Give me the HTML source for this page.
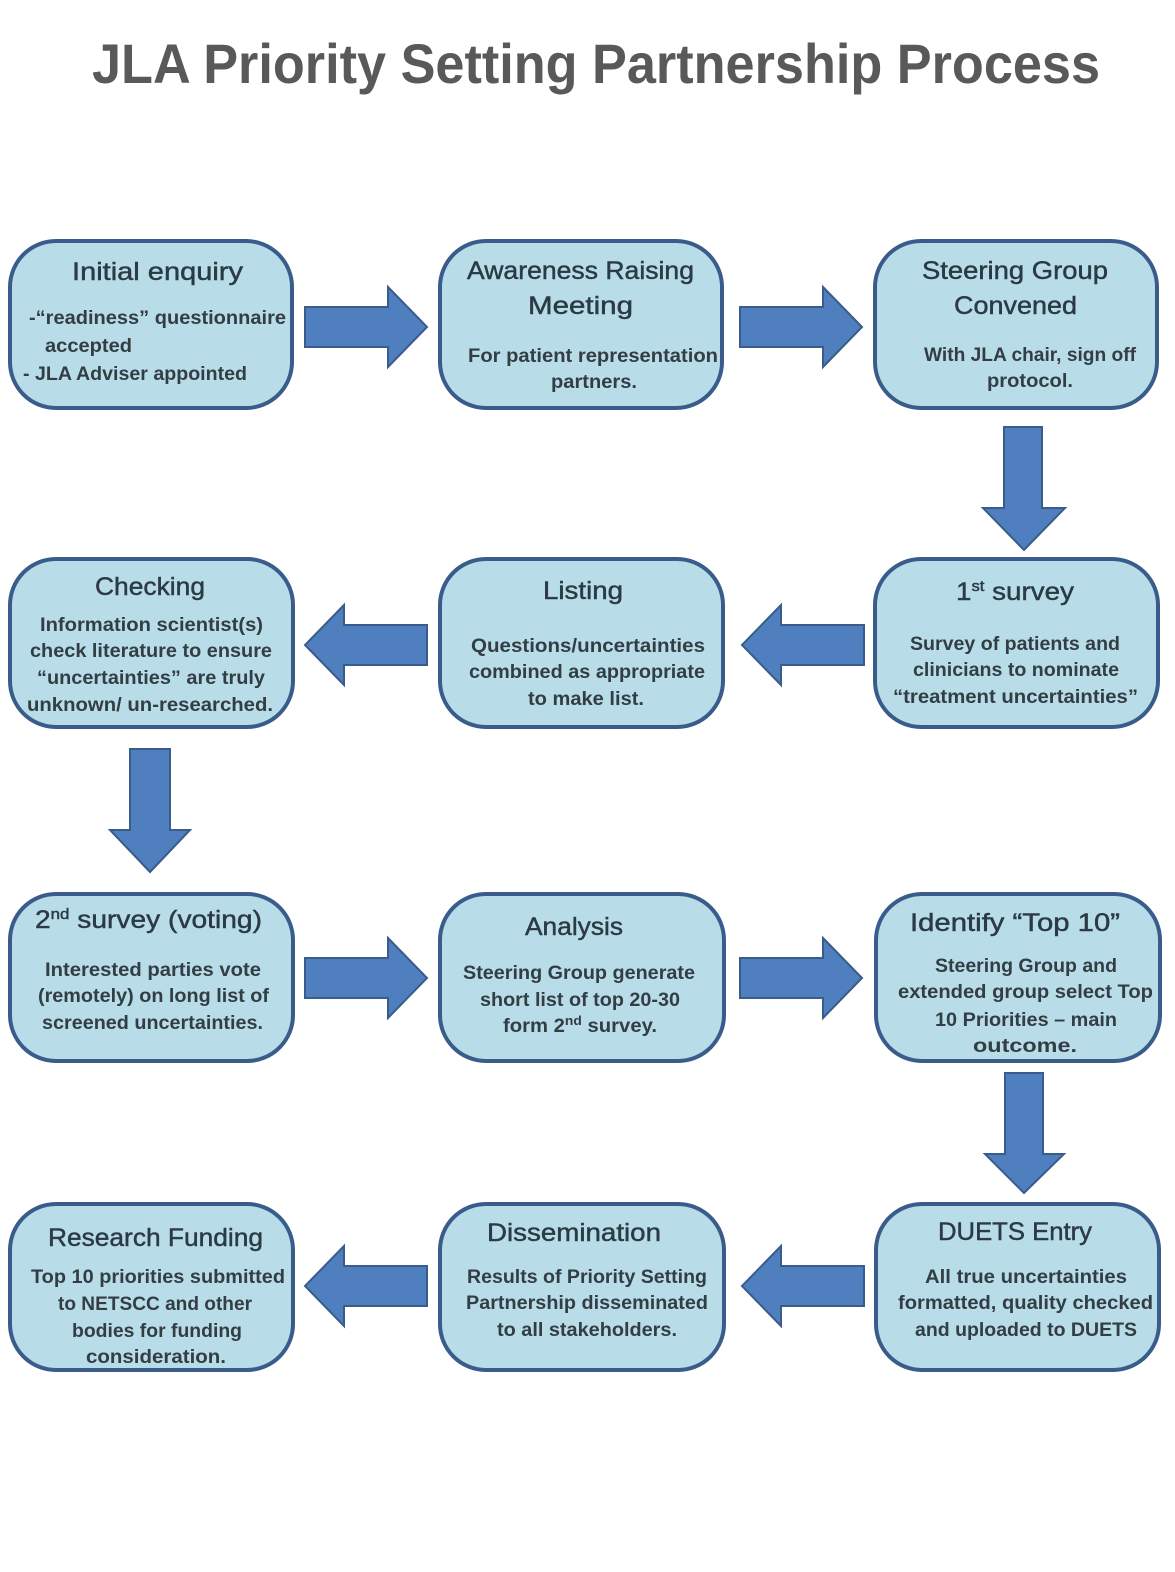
<!DOCTYPE html>
<html>
<head>
<meta charset="utf-8">
<style>
html,body{margin:0;padding:0;background:#fff;}
svg{display:block;}
.t{font-family:"Liberation Sans",Arial,sans-serif;font-weight:bold;fill:#595959;}
.h{font-family:"Liberation Sans",Arial,sans-serif;font-weight:normal;fill:#2b3a44;stroke:#2b3a44;stroke-width:0.45;font-size:25px;}
.b{font-family:"Liberation Sans",Arial,sans-serif;font-weight:bold;fill:#333d44;font-size:19px;}
.box{fill:#b8dde9;stroke:#395c8b;stroke-width:4;}
.ar{fill:#4f7fbf;stroke:#3a5c8a;stroke-width:2;stroke-linejoin:miter;}
</style>
</head>
<body>
<svg width="1175" height="1572" viewBox="0 0 1175 1572" xmlns="http://www.w3.org/2000/svg">
<rect width="1175" height="1572" fill="#fff"/>
<text class="t" x="596" y="83" font-size="56" text-anchor="middle" textLength="1008" lengthAdjust="spacingAndGlyphs">JLA Priority Setting Partnership Process</text>

<!-- Boxes -->
<rect class="box" x="10" y="241" width="282" height="167" rx="46" ry="46"/>
<rect class="box" x="440" y="241" width="282" height="167" rx="46" ry="46"/>
<rect class="box" x="875" y="241" width="282" height="167" rx="46" ry="46"/>

<rect class="box" x="10" y="559" width="283" height="168" rx="46" ry="46"/>
<rect class="box" x="440" y="559" width="283" height="168" rx="46" ry="46"/>
<rect class="box" x="875" y="559" width="283" height="168" rx="46" ry="46"/>

<rect class="box" x="10" y="894" width="283" height="167" rx="46" ry="46"/>
<rect class="box" x="440" y="894" width="284" height="167" rx="46" ry="46"/>
<rect class="box" x="876" y="894" width="284" height="167" rx="46" ry="46"/>

<rect class="box" x="10" y="1204" width="283" height="166" rx="46" ry="46"/>
<rect class="box" x="440" y="1204" width="284" height="166" rx="46" ry="46"/>
<rect class="box" x="876" y="1204" width="283" height="166" rx="46" ry="46"/>

<!-- Arrows row 1 (right) -->
<polygon class="ar" points="305,307 388,307 388,287 427,327 388,367 388,347 305,347"/>
<polygon class="ar" points="740,307 823,307 823,287 862,327 823,367 823,347 740,347"/>
<!-- Down arrow 1 -->
<polygon class="ar" points="1004,427 1042,427 1042,508 1065,508 1024,550 983,508 1004,508"/>
<!-- Row 2 (left) -->
<polygon class="ar" points="864,625 781,625 781,605 742,645 781,685 781,665 864,665"/>
<polygon class="ar" points="427,625 344,625 344,605 305,645 344,685 344,665 427,665"/>
<!-- Down arrow 2 -->
<polygon class="ar" points="130,749 170,749 170,830 190,830 150,872 110,830 130,830"/>
<!-- Row 3 (right) -->
<polygon class="ar" points="305,958 388,958 388,938 427,978 388,1018 388,998 305,998"/>
<polygon class="ar" points="740,958 823,958 823,938 862,978 823,1018 823,998 740,998"/>
<!-- Down arrow 3 -->
<polygon class="ar" points="1005,1073 1043,1073 1043,1154 1064,1154 1024,1193 985,1154 1005,1154"/>
<!-- Row 4 (left) -->
<polygon class="ar" points="864,1266 781,1266 781,1246 742,1286 781,1326 781,1306 864,1306"/>
<polygon class="ar" points="427,1266 344,1266 344,1246 305,1286 344,1326 344,1306 427,1306"/>

<!-- Box 1: Initial enquiry -->
<text class="h" x="157.5" y="280" text-anchor="middle" textLength="171" lengthAdjust="spacingAndGlyphs">Initial enquiry</text>
<text class="b" x="157.5" y="324" text-anchor="middle" textLength="257" lengthAdjust="spacingAndGlyphs">-“readiness” questionnaire</text>
<text class="b" x="88.5" y="352" text-anchor="middle" textLength="87" lengthAdjust="spacingAndGlyphs">accepted</text>
<text class="b" x="135" y="380" text-anchor="middle" textLength="224" lengthAdjust="spacingAndGlyphs">- JLA Adviser appointed</text>

<!-- Box 2: Awareness -->
<text class="h" x="580.5" y="279" text-anchor="middle" textLength="227" lengthAdjust="spacingAndGlyphs">Awareness Raising</text>
<text class="h" x="580.5" y="314" text-anchor="middle" textLength="105" lengthAdjust="spacingAndGlyphs">Meeting</text>
<text class="b" x="593" y="362" text-anchor="middle" textLength="250" lengthAdjust="spacingAndGlyphs">For patient representation</text>
<text class="b" x="594" y="388" text-anchor="middle" textLength="86" lengthAdjust="spacingAndGlyphs">partners.</text>

<!-- Box 3: Steering Group -->
<text class="h" x="1015" y="279" text-anchor="middle" textLength="186" lengthAdjust="spacingAndGlyphs">Steering Group</text>
<text class="h" x="1015.5" y="314" text-anchor="middle" textLength="123" lengthAdjust="spacingAndGlyphs">Convened</text>
<text class="b" x="1030" y="361" text-anchor="middle" textLength="212" lengthAdjust="spacingAndGlyphs">With JLA chair, sign off</text>
<text class="b" x="1030" y="387" text-anchor="middle" textLength="86" lengthAdjust="spacingAndGlyphs">protocol.</text>

<!-- Checking -->
<text class="h" x="150" y="595" text-anchor="middle" textLength="110" lengthAdjust="spacingAndGlyphs">Checking</text>
<text class="b" x="151.5" y="631" text-anchor="middle" textLength="223" lengthAdjust="spacingAndGlyphs">Information scientist(s)</text>
<text class="b" x="151" y="657" text-anchor="middle" textLength="242" lengthAdjust="spacingAndGlyphs">check literature to ensure</text>
<text class="b" x="151" y="684" text-anchor="middle" textLength="228" lengthAdjust="spacingAndGlyphs">“uncertainties” are truly</text>
<text class="b" x="150" y="711" text-anchor="middle" textLength="246" lengthAdjust="spacingAndGlyphs">unknown/ un-researched.</text>

<!-- Listing -->
<text class="h" x="583" y="599" text-anchor="middle" textLength="80" lengthAdjust="spacingAndGlyphs">Listing</text>
<text class="b" x="588" y="652" text-anchor="middle" textLength="234" lengthAdjust="spacingAndGlyphs">Questions/uncertainties</text>
<text class="b" x="587" y="678" text-anchor="middle" textLength="236" lengthAdjust="spacingAndGlyphs">combined as appropriate</text>
<text class="b" x="586" y="705" text-anchor="middle" textLength="116" lengthAdjust="spacingAndGlyphs">to make list.</text>

<!-- 1st survey -->
<text class="h" x="1015" y="600" text-anchor="middle" textLength="118" lengthAdjust="spacingAndGlyphs">1<tspan dy="-9" font-size="15">st</tspan><tspan dy="9"> survey</tspan></text>
<text class="b" x="1015" y="650" text-anchor="middle" textLength="210" lengthAdjust="spacingAndGlyphs">Survey of patients and</text>
<text class="b" x="1016" y="676" text-anchor="middle" textLength="206" lengthAdjust="spacingAndGlyphs">clinicians to nominate</text>
<text class="b" x="1015.5" y="703" text-anchor="middle" textLength="245" lengthAdjust="spacingAndGlyphs">“treatment uncertainties”</text>

<!-- 2nd survey -->
<text class="h" x="148.5" y="928" text-anchor="middle" textLength="227" lengthAdjust="spacingAndGlyphs">2<tspan dy="-9" font-size="15">nd</tspan><tspan dy="9"> survey (voting)</tspan></text>
<text class="b" x="153" y="976" text-anchor="middle" textLength="216" lengthAdjust="spacingAndGlyphs">Interested parties vote</text>
<text class="b" x="153.5" y="1002" text-anchor="middle" textLength="231" lengthAdjust="spacingAndGlyphs">(remotely) on long list of</text>
<text class="b" x="152.5" y="1029" text-anchor="middle" textLength="221" lengthAdjust="spacingAndGlyphs">screened uncertainties.</text>

<!-- Analysis -->
<text class="h" x="574" y="935" text-anchor="middle" textLength="98" lengthAdjust="spacingAndGlyphs">Analysis</text>
<text class="b" x="579" y="979" text-anchor="middle" textLength="232" lengthAdjust="spacingAndGlyphs">Steering Group generate</text>
<text class="b" x="580" y="1006" text-anchor="middle" textLength="200" lengthAdjust="spacingAndGlyphs">short list of top 20-30</text>
<text class="b" x="580" y="1032" text-anchor="middle" textLength="154" lengthAdjust="spacingAndGlyphs">form 2<tspan dy="-7" font-size="13">nd</tspan><tspan dy="7"> survey.</tspan></text>

<!-- Identify Top 10 -->
<text class="h" x="1015" y="931" text-anchor="middle" textLength="210" lengthAdjust="spacingAndGlyphs">Identify “Top 10”</text>
<text class="b" x="1026" y="972" text-anchor="middle" textLength="182" lengthAdjust="spacingAndGlyphs">Steering Group and</text>
<text class="b" x="1025.5" y="998" text-anchor="middle" textLength="255" lengthAdjust="spacingAndGlyphs">extended group select Top</text>
<text class="b" x="1026" y="1026" text-anchor="middle" textLength="182" lengthAdjust="spacingAndGlyphs">10 Priorities – main</text>
<text class="b" x="1025" y="1052" text-anchor="middle" textLength="104" lengthAdjust="spacingAndGlyphs">outcome.</text>

<!-- Research Funding -->
<text class="h" x="155.5" y="1246" text-anchor="middle" textLength="215" lengthAdjust="spacingAndGlyphs">Research Funding</text>
<text class="b" x="158" y="1283" text-anchor="middle" textLength="254" lengthAdjust="spacingAndGlyphs">Top 10 priorities submitted</text>
<text class="b" x="155" y="1310" text-anchor="middle" textLength="194" lengthAdjust="spacingAndGlyphs">to NETSCC and other</text>
<text class="b" x="157" y="1337" text-anchor="middle" textLength="170" lengthAdjust="spacingAndGlyphs">bodies for funding</text>
<text class="b" x="156" y="1363" text-anchor="middle" textLength="140" lengthAdjust="spacingAndGlyphs">consideration.</text>

<!-- Dissemination -->
<text class="h" x="574" y="1241" text-anchor="middle" textLength="174" lengthAdjust="spacingAndGlyphs">Dissemination</text>
<text class="b" x="587" y="1283" text-anchor="middle" textLength="240" lengthAdjust="spacingAndGlyphs">Results of Priority Setting</text>
<text class="b" x="587" y="1309" text-anchor="middle" textLength="242" lengthAdjust="spacingAndGlyphs">Partnership disseminated</text>
<text class="b" x="587" y="1336" text-anchor="middle" textLength="180" lengthAdjust="spacingAndGlyphs">to all stakeholders.</text>

<!-- DUETS Entry -->
<text class="h" x="1015" y="1240" text-anchor="middle" textLength="154" lengthAdjust="spacingAndGlyphs">DUETS Entry</text>
<text class="b" x="1026" y="1283" text-anchor="middle" textLength="202" lengthAdjust="spacingAndGlyphs">All true uncertainties</text>
<text class="b" x="1025.5" y="1309" text-anchor="middle" textLength="255" lengthAdjust="spacingAndGlyphs">formatted, quality checked</text>
<text class="b" x="1026" y="1336" text-anchor="middle" textLength="222" lengthAdjust="spacingAndGlyphs">and uploaded to DUETS</text>
</svg>
</body>
</html>
